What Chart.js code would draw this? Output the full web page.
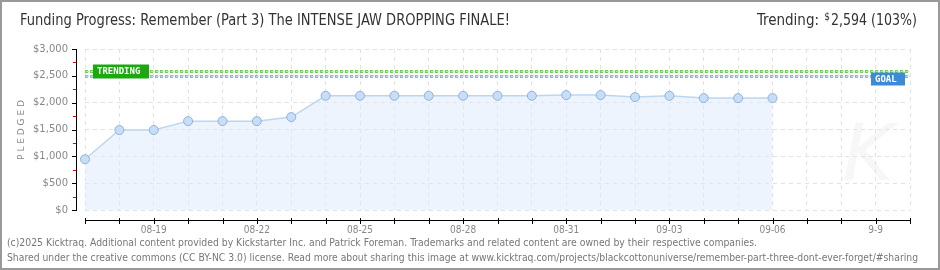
<!DOCTYPE html>
<html>
<head>
<meta charset="utf-8">
<script src="https://cdn.jsdelivr.net/npm/chart.js@4"></script>
<style>
  body { margin: 0; background: #fff; }
  canvas { display: block; }
</style>
</head>
<body>
<canvas id="fundingChart" width="940" height="270"></canvas>
<script>
// Chart data
const days = ["08-17","08-18","08-19","08-20","08-21","08-22","08-23","08-24","08-25","08-26",
  "08-27","08-28","08-29","08-30","08-31","09-01","09-02","09-03","09-04","09-05",
  "09-06","09-07","09-08","09-09","09-10"];
const tickLabels = ["","","08-19","","","08-22","","","08-25","","","08-28","","","08-31",
  "","","09-03","","","09-06","","","9-9",""];
const pledged = [946, 1490, 1490, 1656, 1656, 1656, 1731, 2128, 2128, 2128, 2128, 2128, 2128, 2128,
  2141, 2141, 2104, 2128, 2085, 2085, 2085];
const goal = 2500;
const trending = 2594;
const majorTicks = [0, 500, 1000, 1500, 2000, 2500, 3000];
const minorTicks = [250, 750, 1250, 1750, 2250, 2750];

const titleText = "Funding Progress: Remember (Part 3) The INTENSE JAW DROPPING FINALE!";
const footer1 = "(c)2025 Kicktraq. Additional content provided by Kickstarter Inc. and Patrick Foreman. Trademarks and related content are owned by their respective companies.";
const footer2 = "Shared under the creative commons (CC BY-NC 3.0) license. Read more about sharing this image at www.kicktraq.com/projects/blackcottonuniverse/remember-part-three-dont-ever-forget/#sharing";

// Draws frame, titles, axes and goal/trending markers
const decorations = {
  id: "decorations",
  beforeDraw(chart) {
    const ctx = chart.ctx;
    ctx.save();
    ctx.fillStyle = "#fff";
    ctx.fillRect(0, 0, chart.width, chart.height);
    // faint watermark
    ctx.fillStyle = "#f7f7f7";
    ctx.font = "italic 78px 'DejaVu Sans'";
    ctx.textAlign = "center";
    ctx.textBaseline = "middle";
    ctx.fillText("K", 868, 160);
    ctx.restore();
  },
  afterDraw(chart) {
    const ctx = chart.ctx;
    const x = chart.scales.x, y = chart.scales.y;
    const area = chart.chartArea;
    ctx.save();

    // goal and trending dotted lines
    function dotted(val, col, light) {
      const py = Math.round(y.getPixelForValue(val)) + 0.5;
      ctx.lineWidth = 3;
      ctx.setLineDash([3, 2]);
      ctx.strokeStyle = col;
      ctx.beginPath(); ctx.moveTo(area.left, py); ctx.lineTo(area.right, py); ctx.stroke();
      ctx.lineWidth = 1;
      ctx.strokeStyle = light;
      ctx.beginPath(); ctx.moveTo(area.left + 1, py); ctx.lineTo(area.right, py); ctx.stroke();
      ctx.setLineDash([]);
      return py;
    }
    const ty = dotted(trending, "#6fd24f", "#b9eba8");
    const gy = dotted(goal, "#8fb2de", "#c9dbf2");

    ctx.font = "bold 9px 'DejaVu Sans Mono'";
    ctx.textBaseline = "middle";
    ctx.textAlign = "left";
    ctx.fillStyle = "#1aaa0e";
    ctx.fillRect(93, ty - 7, 56, 14);
    ctx.fillStyle = "#fff";
    ctx.fillText("TRENDING", 97, ty, 48);
    ctx.fillStyle = "#3d8bd8";
    ctx.fillRect(871, gy - 4, 34, 13);
    ctx.fillStyle = "#fff";
    ctx.fillText("GOAL", 875, gy + 3, 24);

    // y axis line + ticks
    ctx.fillStyle = "#000";
    ctx.fillRect(76, Math.round(area.top), 1, Math.round(area.bottom - area.top) + 1);
    majorTicks.forEach(v => {
      const py = Math.round(y.getPixelForValue(v));
      ctx.fillRect(72, py, 5, 1);
    });
    ctx.fillStyle = "#e00";
    minorTicks.forEach(v => {
      const py = Math.round(y.getPixelForValue(v));
      ctx.fillRect(73, py, 3, 1);
    });

    // x axis line + ticks
    ctx.fillStyle = "#000";
    ctx.fillRect(Math.round(area.left), 220, Math.round(area.right - area.left) + 1, 1);
    days.forEach((d, i) => {
      const px = Math.round(x.getPixelForValue(i));
      ctx.fillRect(px, 218, 1, 6);
    });

    // PLEDGED label
    ctx.save();
    ctx.translate(22, 130);
    ctx.rotate(-Math.PI / 2);
    ctx.fillStyle = "#888";
    ctx.font = "9px 'DejaVu Sans'";
    ctx.textAlign = "center";
    ctx.fillText("P L E D G E D", 0, 0);
    ctx.restore();

    // titles
    ctx.fillStyle = "#333";
    ctx.font = "15px 'DejaVu Sans Condensed'";
    ctx.textAlign = "left";
    ctx.fillText(titleText, 20, 21, 490);
    ctx.textAlign = "right";
    ctx.fillText("2,594 (103%)", 917, 21, 86);
    ctx.font = "10px 'DejaVu Sans Condensed'";
    ctx.fillText("$", 830, 17);
    ctx.font = "15px 'DejaVu Sans Condensed'";
    ctx.fillText("Trending:", 819, 21, 68);

    // footer
    ctx.fillStyle = "#777";
    ctx.font = "10.5px 'DejaVu Sans Condensed'";
    ctx.textAlign = "left";
    ctx.fillText(footer1, 7, 243, 750);
    ctx.fillText(footer2, 7, 258, 911);

    // frame
    ctx.strokeStyle = "#999";
    ctx.lineWidth = 2;
    ctx.strokeRect(1, 1, chart.width - 2, chart.height - 2);
    ctx.restore();
  }
};

new Chart(document.getElementById("fundingChart"), {
  type: "line",
  data: {
    labels: days,
    datasets: [{
      data: pledged,
      fill: "origin",
      backgroundColor: "rgba(220,234,251,0.5)",
      borderColor: "#bcd6f2",
      borderWidth: 1.5,
      tension: 0,
      pointRadius: 4.5,
      pointBackgroundColor: "#c6def9",
      pointBorderColor: "#93b2d6",
      pointBorderWidth: 1
    }]
  },
  options: {
    responsive: false,
    animation: false,
    layout: { padding: { top: 49, right: 30, bottom: 0, left: 0 } },
    plugins: { legend: { display: false }, tooltip: { enabled: false } },
    scales: {
      x: {
        afterFit(scale) { scale.height = 60; },
        border: { display: false, dash: [4, 4] },
        grid: { color: "#e2e2e2", drawTicks: false },
        ticks: {
          autoSkip: false, maxRotation: 0, padding: 14,
          color: "#888", font: { family: "DejaVu Sans Condensed", size: 10 },
          callback: (v, i) => tickLabels[i]
        }
      },
      y: {
        min: 0, max: 3000,
        afterFit(scale) { scale.width = 85; },
        border: { display: false, dash: [4, 4] },
        grid: { color: "#e2e2e2", drawTicks: false },
        ticks: {
          stepSize: 500, padding: 17,
          color: "#888", font: { family: "DejaVu Sans", size: 10 },
          callback: v => "$" + v.toLocaleString("en-US")
        }
      }
    }
  },
  plugins: [decorations]
});
</script>
</body>
</html>
